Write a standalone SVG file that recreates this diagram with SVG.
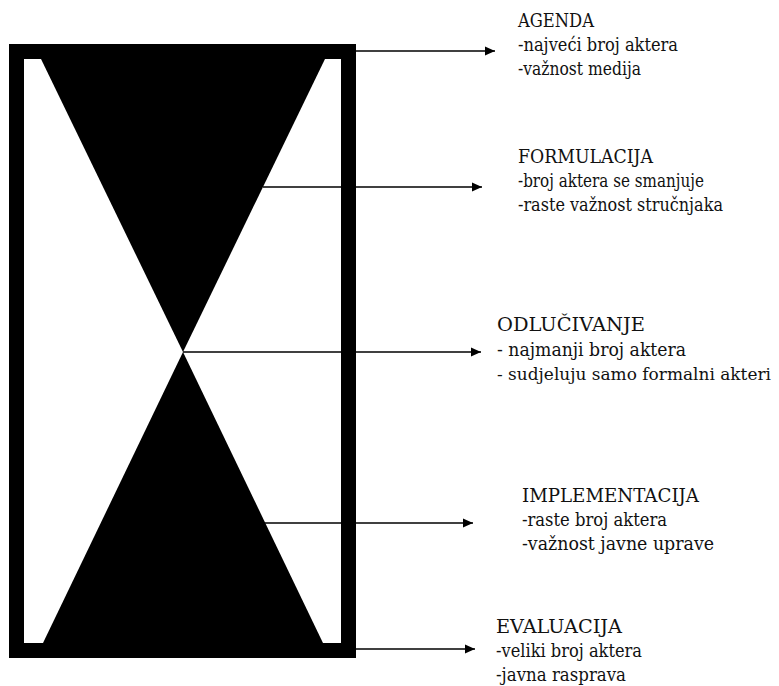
<svg xmlns="http://www.w3.org/2000/svg" width="779" height="686" viewBox="0 0 779 686">
<defs>
<marker id="ah" markerWidth="10" markerHeight="10" refX="10" refY="5" orient="auto" markerUnits="userSpaceOnUse">
<path d="M0,0.5 L10,5 L0,9.5 Z" fill="#000"/>
</marker>
<style>
text{font-family:'DejaVu Serif','Liberation Serif','Times New Roman',serif;font-size:18px;fill:#111}
.sm{font-size:17px}
.con{stroke:#000;stroke-width:1.5;fill:none;marker-end:url(#ah)}
</style>
</defs>
<rect x="0" y="0" width="779" height="686" fill="#fff"/>
<g id="hourglass">
<rect x="16.5" y="51.5" width="332" height="599" fill="#fff" stroke="#000" stroke-width="15"/>
<polygon points="41,59 325,59 183,352" fill="#000"/>
<polygon points="183,352 43,643 323,643" fill="#000"/>
</g>
<g id="connectors">
<line class="con" x1="356" y1="51" x2="495" y2="51"/>
<line class="con" x1="263" y1="187" x2="482" y2="187"/>
<line class="con" x1="183" y1="352" x2="481" y2="352"/>
<line class="con" x1="265" y1="523" x2="473" y2="523"/>
<line class="con" x1="356" y1="649" x2="475" y2="649"/>
</g>
<g id="agenda">
<text x="518" y="27" textLength="76" lengthAdjust="spacingAndGlyphs">AGENDA</text>
<text x="518" y="51" textLength="160" lengthAdjust="spacingAndGlyphs">-najveći broj aktera</text>
<text x="518" y="75" textLength="123" lengthAdjust="spacingAndGlyphs">-važnost medija</text>
</g>
<g id="formulacija">
<text x="518" y="163" textLength="135" lengthAdjust="spacingAndGlyphs">FORMULACIJA</text>
<text x="518" y="187" textLength="186" lengthAdjust="spacingAndGlyphs">-broj aktera se smanjuje</text>
<text x="518" y="211" textLength="205" lengthAdjust="spacingAndGlyphs">-raste važnost stručnjaka</text>
</g>
<g id="odlucivanje">
<text x="497" y="331" textLength="148" lengthAdjust="spacingAndGlyphs">ODLUČIVANJE</text>
<text x="497" y="356" textLength="189" lengthAdjust="spacingAndGlyphs">- najmanji broj aktera</text>
<text class="sm" x="497" y="380" textLength="274" lengthAdjust="spacingAndGlyphs">- sudjeluju samo formalni akteri</text>
</g>
<g id="implementacija">
<text x="522" y="502" textLength="177" lengthAdjust="spacingAndGlyphs">IMPLEMENTACIJA</text>
<text x="522" y="526" textLength="145" lengthAdjust="spacingAndGlyphs">-raste broj aktera</text>
<text x="522" y="550" textLength="192" lengthAdjust="spacingAndGlyphs">-važnost javne uprave</text>
</g>
<g id="evaluacija">
<text x="496" y="633" textLength="126" lengthAdjust="spacingAndGlyphs">EVALUACIJA</text>
<text x="496" y="657" textLength="146" lengthAdjust="spacingAndGlyphs">-veliki broj aktera</text>
<text x="496" y="681" textLength="130" lengthAdjust="spacingAndGlyphs">-javna rasprava</text>
</g>
</svg>
